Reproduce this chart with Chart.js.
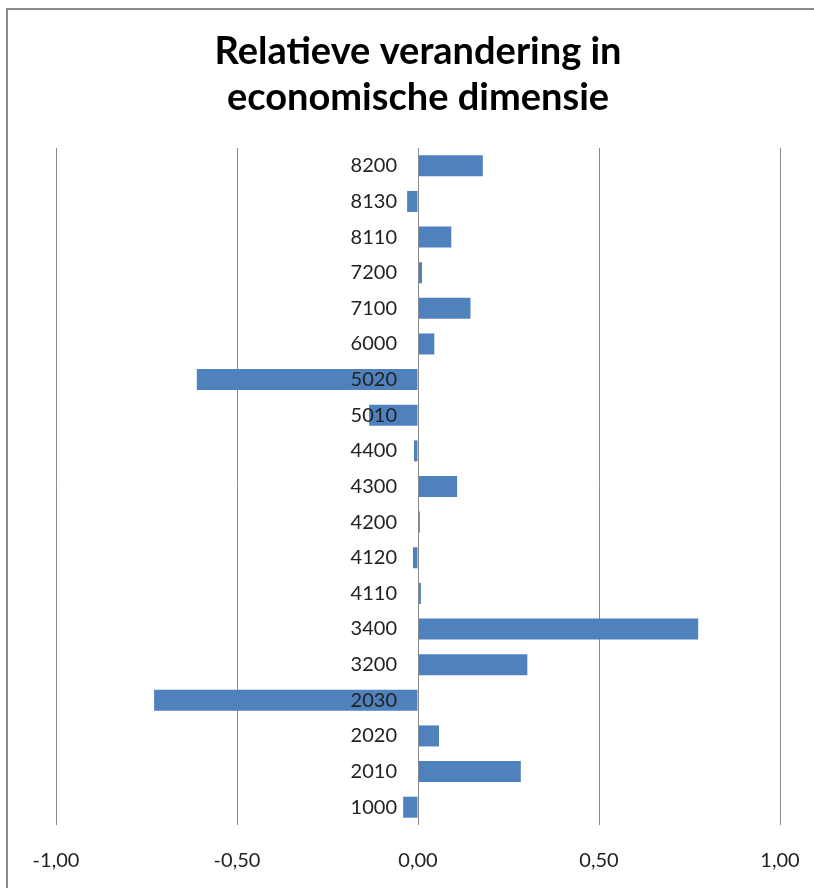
<!DOCTYPE html>
<html>
<head>
<meta charset="utf-8">
<script src="https://cdn.jsdelivr.net/npm/chart.js@4"></script>
<style>
  html, body { margin: 0; padding: 0; background: #fff; overflow: hidden; }
  #frame { position: absolute; left: 6px; top: 8px; width: 820px; height: 900px;
           border-left: 2px solid #8a8a8a; border-top: 2px solid #8a8a8a; }
  #wrap { position: absolute; left: 0; top: 0; width: 814px; height: 888px; }
</style>
</head>
<body>
<div id="frame"></div>
<div id="wrap"><canvas id="c" width="814" height="888"></canvas></div>
<script>
const categories = ['8200','8130','8110','7200','7100','6000','5020','5010','4400','4300','4200','4120','4110','3400','3200','2030','2020','2010','1000'];
const values = [0.179, -0.030, 0.092, 0.011, 0.145, 0.045, -0.611, -0.135, -0.011, 0.108, 0.005, -0.014, 0.008, 0.774, 0.302, -0.729, 0.058, 0.284, -0.041];
const xTicks = [-1, -0.5, 0, 0.5, 1];
const titleLines = ['Relatieve verandering in', 'economische dimensie'];

// Category labels and zero line drawn at the x=0 position of the value scale
const zeroAxisLabels = {
  id: 'zeroAxisLabels',
  afterDatasetsDraw(chart) {
    const { ctx, chartArea } = chart;
    const xs = chart.scales.x, ys = chart.scales.y;
    const x0 = xs.getPixelForValue(0);
    ctx.save();
    ctx.strokeStyle = '#8a8a8a';
    ctx.lineWidth = 1;
    ctx.beginPath();
    ctx.moveTo(Math.round(x0) + 0.5, chartArea.top);
    ctx.lineTo(Math.round(x0) + 0.5, chartArea.bottom);
    ctx.stroke();
    ctx.fillStyle = '#222';
    ctx.font = '20px Lato';
    ctx.textAlign = 'right';
    ctx.textBaseline = 'middle';
    categories.forEach((lab, i) => {
      ctx.fillText(lab, x0 - 21, ys.getPixelForValue(i));
    });
    ctx.restore();
  }
};

new Chart(document.getElementById('c'), {
  type: 'bar',
  data: {
    labels: categories,
    datasets: [{
      data: values,
      backgroundColor: '#4F81BD',
      borderWidth: 0,
      barPercentage: 0.59,
      categoryPercentage: 1.0
    }]
  },
  options: {
    indexAxis: 'y',
    responsive: false,
    animation: false,
    devicePixelRatio: 1,
    layout: { padding: { left: 56, right: 34, top: 0, bottom: 0 } },
    plugins: {
      legend: { display: false },
      tooltip: { enabled: false },
      title: {
        display: true,
        text: titleLines,
        color: '#000',
        font: { family: 'Lato', size: 38, weight: 'bold', lineHeight: 46.5 / 38 },
        padding: { top: 28, bottom: 27 }
      }
    },
    scales: {
      x: {
        min: -1, max: 1,
        afterBuildTicks: (s) => { s.ticks = xTicks.map(v => ({ value: v })); },
        afterFit: (s) => { s.height = 63; },
        grid: { color: '#8a8a8a', lineWidth: 1, drawTicks: true, tickLength: 14, tickColor: 'rgba(0,0,0,0)' },
        border: { display: false },
        ticks: {
          padding: 10,
          color: '#222',
          font: { family: 'Lato', size: 20 },
          callback: (v) => Number(v).toFixed(2).replace('.', ',')
        }
      },
      y: {
        display: false
      }
    }
  },
  plugins: [zeroAxisLabels]
});
</script>
</body>
</html>
